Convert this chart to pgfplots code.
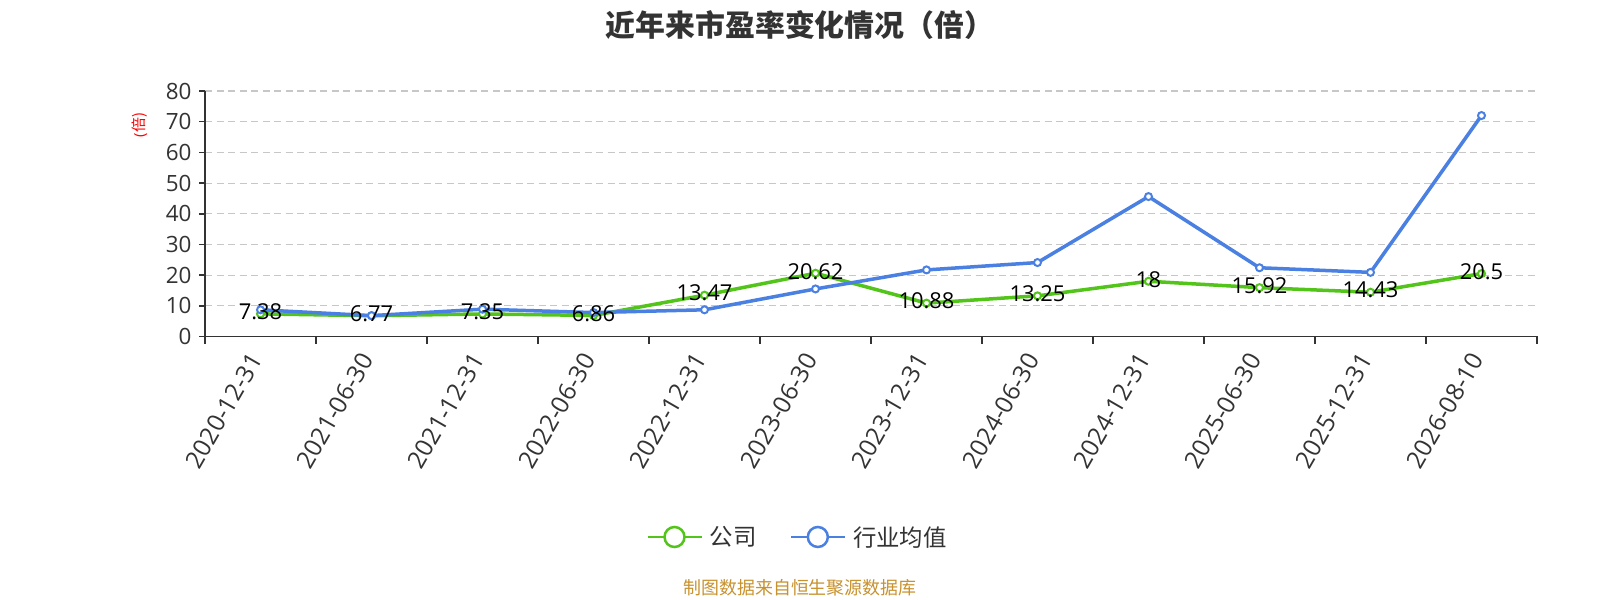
\documentclass[border=0pt]{standalone}
\usepackage{fontspec}
\setmainfont{Open Sans}
\newfontfamily\cjk{Noto Sans CJK SC}
\usepackage{pgfplots}
\pgfplotsset{compat=1.18}
\definecolor{cgreen}{HTML}{52C41A}
\definecolor{cblue}{HTML}{4A80E2}
\definecolor{ctext}{HTML}{333333}
\definecolor{cgold}{HTML}{C8922E}
\begin{document}
\begin{tikzpicture}
\useasboundingbox (0,0) rectangle (1600bp,600bp);
\fill[white] (0,0) rectangle (1600bp,600bp);
\node[text=ctext,font=\cjk\bfseries\fontsize{30}{34}\selectfont] at (800bp,575bp) {近年来市盈率变化情况（倍）};
\node[text=cgold,font=\cjk\fontsize{18}{20}\selectfont] at (800bp,12bp) {制图数据来自恒生聚源数据库};
\begin{axis}[
  at={(205bp,263.5bp)}, anchor=south west,
  scale only axis, width=1332bp, height=245.5bp,
  xmin=-0.5, xmax=11.5, ymin=0, ymax=80,
  axis x line*=bottom, axis y line*=left,
  axis line style={ctext, line width=1.6bp},
  xtick={0,...,11},
  xticklabels={2020-12-31,2021-06-30,2021-12-31,2022-06-30,2022-12-31,2023-06-30,2023-12-31,2024-06-30,2024-12-31,2025-06-30,2025-12-31,2026-08-10},
  minor xtick={-0.5,0.5,...,11.5},
  x tick style={draw=none},
  minor x tick style={draw=ctext, line width=1.6bp},
  minor tick length=7bp,
  ytick={0,10,...,80},
  y tick style={draw=ctext, line width=1.6bp},
  major tick length=6bp,
  tick align=outside,
  ymajorgrids,
  major grid style={black!22, line width=1.1bp, dash pattern=on 7bp off 4.5bp},
  xticklabel style={xshift=-3bp, yshift=-10bp, rotate=60, anchor=east, font=\fontsize{24.5}{28}\selectfont, text=ctext},
  yticklabel style={font=\fontsize{22.5}{26}\selectfont, text=ctext, xshift=-4bp},
  /pgf/number format/assume math mode=true,
  ylabel={(\cjk 倍)},
  ylabel style={at={(axis description cs:-0.0488,0.862)}, anchor=center, text=red, font=\fontsize{15}{17}\selectfont},
  legend columns=2,
  legend style={at={(axis description cs:0.4467,-0.8167)}, anchor=center, draw=none, fill=none,
    font=\cjk\fontsize{23.5}{27}\selectfont, text=ctext, inner xsep=0pt,
    /tikz/every even column/.append style={column sep=26bp},
    nodes={inner xsep=7bp}},
  legend cell align=left,
  clip=false,
]
\addplot[cgreen, line width=3.5bp, mark=*, mark size=3.5bp, mark options={fill=white, draw=cgreen, line width=2bp},
  legend image code/.code={\draw[cgreen,line width=2.5bp] (0bp,0bp)--(54bp,0bp); \draw[cgreen,line width=2.5bp,fill=white] (27bp,0bp) circle (10bp);}]
coordinates {(0,7.38)(1,6.77)(2,7.35)(3,6.86)(4,13.47)(5,20.62)(6,10.88)(7,13.25)(8,18)(9,15.92)(10,14.43)(11,20.5)};
\addlegendentry{公司}
\addplot[cblue, line width=3.5bp, mark=*, mark size=3.5bp, mark options={fill=white, draw=cblue, line width=2bp},
  legend image code/.code={\draw[cblue,line width=2.5bp] (0bp,0bp)--(54bp,0bp); \draw[cblue,line width=2.5bp,fill=white] (27bp,0bp) circle (10bp);}]
coordinates {(0,8.7)(1,6.8)(2,8.9)(3,7.8)(4,8.7)(5,15.5)(6,21.7)(7,24.1)(8,45.6)(9,22.4)(10,20.9)(11,72.0)};
\addlegendentry{行业均值}
\addplot[draw=none, no marks, forget plot, nodes near coords, point meta=explicit symbolic,
  every node near coord/.style={anchor=center, yshift=2bp, text=black, font=\fontsize{22}{26}\selectfont}]
coordinates {(0,7.38)[7.38](1,6.77)[6.77](2,7.35)[7.35](3,6.86)[6.86](4,13.47)[13.47](5,20.62)[20.62](6,10.88)[10.88](7,13.25)[13.25](8,18)[18](9,15.92)[15.92](10,14.43)[14.43](11,20.5)[20.5]};
\end{axis}
\end{tikzpicture}
\end{document}
